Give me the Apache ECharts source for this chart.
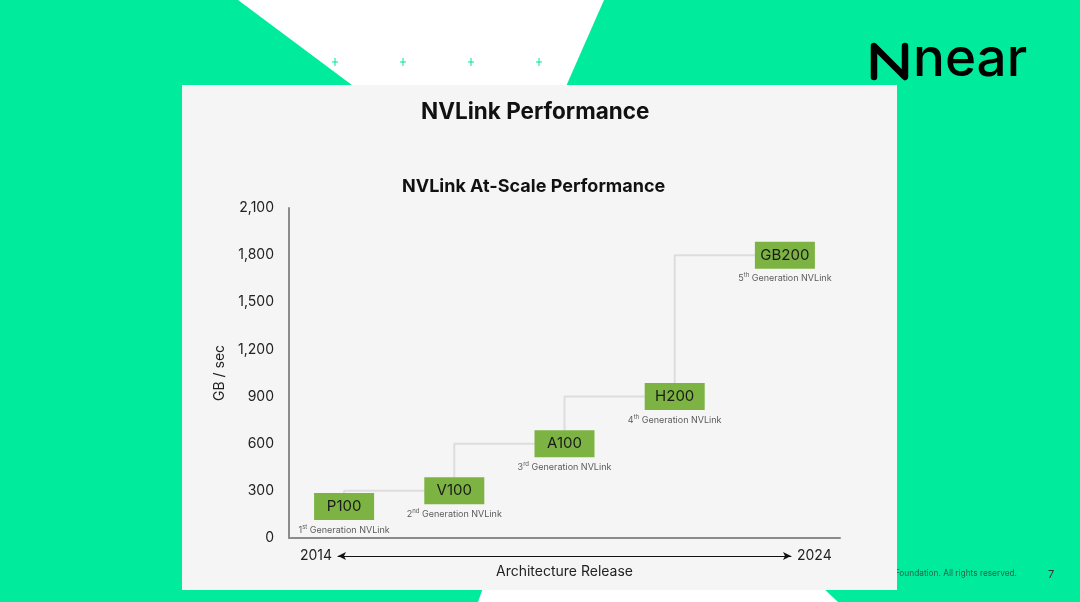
<!DOCTYPE html>
<html>
<head>
<meta charset="utf-8">
<script src="https://cdn.jsdelivr.net/npm/echarts@6/dist/echarts.min.js"></script>
<style>
  html, body { margin: 0; padding: 0; background: #00eb9c; }
  #chart { width: 1080px; height: 602px; }
</style>
</head>
<body>
<div id="chart"></div>
<script>
// chart data
const products = ['P100', 'V100', 'A100', 'H200', 'GB200']
const bandwidth = [200, 300, 600, 900, 1800] // GB/sec
const genNumbers = ['1', '2', '3', '4', '5']
const genSuffix = ['st', 'nd', 'rd', 'th', 'th']
const yearRange = [2014, 2024]

const green = '#7cb342'
const font = 'Inter'

const chart = echarts.init(document.getElementById('chart'))

// background shapes, panel, logo
const plusXs = [335, 403, 471, 539]
const plusMarks = []
plusXs.forEach(x => {
  plusMarks.push({ type: 'line', shape: { x1: x - 3, y1: 62, x2: x + 3, y2: 62 }, style: { stroke: '#00e39a', lineWidth: 1 } })
  plusMarks.push({ type: 'line', shape: { x1: x, y1: 58, x2: x, y2: 66 }, style: { stroke: '#00e39a', lineWidth: 1 } })
})

const graphics = [
  { type: 'polygon', shape: { points: [[238, 0], [604, 0], [560, 100], [372, 100]] }, style: { fill: '#ffffff' } },
  { type: 'polygon', shape: { points: [[484, 585], [820, 585], [838, 602], [478, 602]] }, style: { fill: '#ffffff' } },
  {
    type: 'text', x: 1017, y: 574,
    style: { text: '© 2024 NEAR Foundation. All rights reserved.', fill: '#2b5e4a', font: '8.3px ' + font, align: 'right', verticalAlign: 'middle' }
  },
  { type: 'rect', shape: { x: 182, y: 85, width: 715, height: 505 }, style: { fill: '#f5f5f5' } },
  ...plusMarks,
  {
    type: 'polyline',
    shape: { points: [[874, 77], [874, 46], [905, 77], [905, 46]] },
    style: { stroke: '#000', lineWidth: 6.5, fill: null, lineJoin: 'round', lineCap: 'round' }
  },
  {
    type: 'text', x: 913, y: 60,
    style: { text: 'near', fill: '#000', font: '500 53px ' + font, verticalAlign: 'middle' }
  },
  {
    type: 'text', x: 1051, y: 575,
    style: { text: '7', fill: '#333', font: '11px ' + font, align: 'center', verticalAlign: 'middle' }
  }
]

const option = {
  backgroundColor: '#00eb9c',
  textStyle: { fontFamily: font },
  graphic: { elements: graphics },
  title: [{
    text: 'NVLink Performance',
    left: 416,
    top: 96,
    textStyle: { fontSize: 22.5, fontWeight: 'bold', color: '#111', fontFamily: font }
  }, {
    text: 'NVLink At-Scale Performance',
    left: 397,
    top: 173,
    textStyle: { fontSize: 18, fontWeight: 'bold', color: '#111', fontFamily: font }
  }],
  grid: [
    { left: 289, right: 240, top: 208, bottom: 64 },
    { left: 338, right: 289, top: 540, bottom: 46 }
  ],
  xAxis: [{
    type: 'category',
    gridIndex: 0,
    data: products,
    z: 3,
    axisLine: { lineStyle: { color: '#8c8c8c', width: 2 } },
    axisTick: { show: false },
    axisLabel: { show: false }
  }, {
    type: 'value',
    gridIndex: 1,
    min: yearRange[0],
    max: yearRange[1],
    interval: 2,
    z: 3,
    splitLine: { show: false },
    axisTick: { show: false },
    axisLine: {
      show: true,
      symbol: ['arrow', 'arrow'],
      symbolSize: [6, 8],
      lineStyle: { color: '#111', width: 1 }
    },
    axisLabel: {
      formatter: v => (v === yearRange[0] || v === yearRange[1]) ? String(v) : '',
      showMinLabel: true,
      showMaxLabel: true,
      alignMinLabel: 'right',
      alignMaxLabel: 'left',
      verticalAlign: 'middle',
      margin: 0,
      padding: [0, 6, 0, 6],
      fontSize: 14,
      color: '#222'
    },
    name: 'Architecture Release',
    nameLocation: 'middle',
    nameGap: 9,
    nameTextStyle: { fontSize: 14, color: '#222' }
  }],
  yAxis: [{
    type: 'value',
    gridIndex: 0,
    min: 0,
    max: 2100,
    interval: 300,
    z: 3,
    name: 'GB / sec',
    nameLocation: 'middle',
    nameGap: 62,
    nameTextStyle: { fontSize: 14, color: '#222' },
    splitLine: { show: false },
    axisTick: { show: false },
    axisLine: { show: true, lineStyle: { color: '#8c8c8c', width: 2 } },
    axisLabel: {
      margin: 15,
      fontSize: 14,
      color: '#222',
      formatter: v => v.toLocaleString('en-US')
    }
  }, {
    type: 'value',
    gridIndex: 1,
    show: false
  }],
  series: [{
    // grey step connector
    type: 'line',
    step: 'start',
    data: bandwidth,
    showSymbol: false,
    silent: true,
    z: 1,
    lineStyle: { color: '#dddddd', width: 2 }
  }, {
    // product boxes
    type: 'scatter',
    data: bandwidth,
    symbol: 'rect',
    symbolSize: [60, 27],
    z: 3,
    itemStyle: { color: green, opacity: 1 },
    label: {
      show: true,
      position: 'inside',
      formatter: p => products[p.dataIndex],
      fontSize: 15,
      color: '#1a1a1a'
    }
  }, {
    // generation captions under each box
    type: 'scatter',
    data: bandwidth,
    symbol: 'rect',
    symbolSize: [60, 27],
    z: 3,
    itemStyle: { color: 'rgba(0,0,0,0)' },
    label: {
      show: true,
      position: 'bottom',
      distance: 4,
      formatter: p => '{n|' + genNumbers[p.dataIndex] + '}{s|' + genSuffix[p.dataIndex] + '}{g| Generation NVLink}',
      rich: {
        n: { fontSize: 9, color: '#333', lineHeight: 12 },
        s: { fontSize: 6, color: '#333', verticalAlign: 'top', lineHeight: 8 },
        g: { fontSize: 9, color: '#333', lineHeight: 12 }
      }
    }
  }]
}

chart.setOption(option)
</script>
</body>
</html>
